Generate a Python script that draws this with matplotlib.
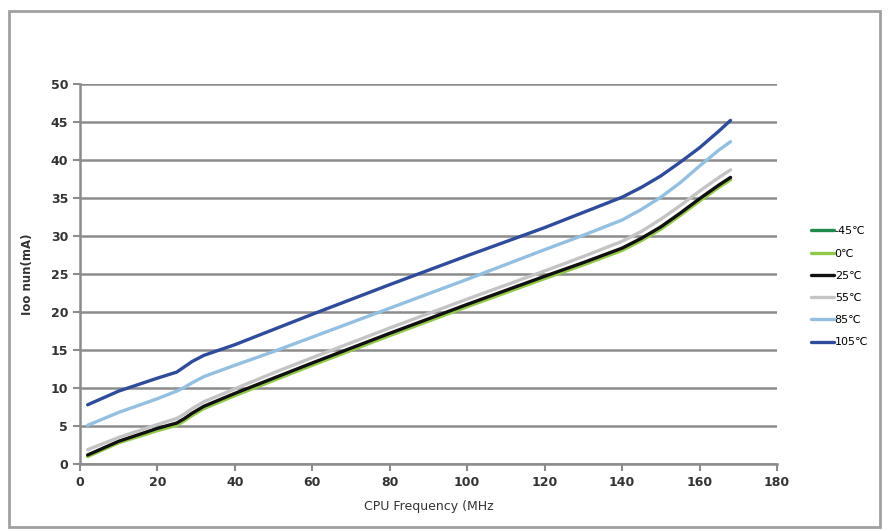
import numpy as np
import matplotlib
matplotlib.use('Agg')
from matplotlib import pyplot as plt
from matplotlib.patches import Rectangle

# CPU frequency points (MHz)
freq = [2, 10, 20, 25, 27, 29, 32, 40, 50, 60, 80, 100, 120, 130, 140, 145, 150, 155, 160, 165, 168]

# supply current (mA) per temperature
i_m45 = [1.1, 2.9, 4.6, 5.3, 5.9, 6.6, 7.5, 9.2, 11.2, 13.2, 17.1, 20.9, 24.6, 26.4, 28.3, 29.6, 31.1, 32.9, 34.8, 36.6, 37.6]
i_0 = [1.0, 2.8, 4.4, 5.1, 5.7, 6.4, 7.3, 9.0, 11.0, 13.0, 16.9, 20.7, 24.4, 26.2, 28.1, 29.4, 30.9, 32.7, 34.6, 36.4, 37.4]
i_25 = [1.2, 3.0, 4.7, 5.4, 6.0, 6.7, 7.6, 9.3, 11.3, 13.3, 17.2, 21.0, 24.7, 26.5, 28.4, 29.7, 31.2, 33.0, 34.9, 36.7, 37.7]
i_55 = [1.9, 3.5, 5.2, 6.0, 6.6, 7.3, 8.2, 9.9, 12.0, 14.0, 17.9, 21.7, 25.4, 27.3, 29.3, 30.6, 32.2, 34.0, 35.9, 37.7, 38.7]
i_85 = [5.1, 6.8, 8.6, 9.6, 10.1, 10.7, 11.5, 13.0, 14.8, 16.7, 20.5, 24.3, 28.2, 30.1, 32.1, 33.5, 35.1, 37.0, 39.2, 41.3, 42.4]
i_105 = [7.8, 9.6, 11.3, 12.1, 12.8, 13.5, 14.3, 15.7, 17.7, 19.7, 23.6, 27.4, 31.1, 33.1, 35.1, 36.4, 37.9, 39.7, 41.6, 43.8, 45.2]

labels = ['-45\u2103', '0\u2103', '25\u2103', '55\u2103', '85\u2103', '105\u2103']
colors = ['#1f8a4c', '#93c94a', '#111111', '#c4c4c4', '#93bfe0', '#2f4c9c']
series = [i_m45, i_0, i_25, i_55, i_85, i_105]

xticks = [0, 20, 40, 60, 80, 100, 120, 140, 160, 180]
yticks = [0, 5, 10, 15, 20, 25, 30, 35, 40, 45, 50]

fig = plt.figure(figsize=(8.88, 5.31), dpi=100)
ax = fig.add_axes([0.090, 0.126, 0.785, 0.716])

# outer frame round the whole picture
fig.patches.append(Rectangle((0.010, 0.008), 0.981, 0.971, transform=fig.transFigure,
                             fill=False, edgecolor='#a0a0a0', linewidth=2))

for y, lab, col in zip(series, labels, colors):
    ax.plot(freq, y, color=col, linewidth=2.4, label=lab, solid_capstyle='round')

ax.set_xlim(0, 180)
ax.set_ylim(0, 50)
ax.set_xticks(xticks)
ax.set_yticks(yticks)
ax.yaxis.grid(True, color='#8c8c8c', linewidth=1.8)
ax.set_axisbelow(True)
for s in ['top', 'right']:
    ax.spines[s].set_visible(False)
for s in ['left', 'bottom']:
    ax.spines[s].set_color('#8c8c8c')
    ax.spines[s].set_linewidth(1.8)
ax.tick_params(colors='#8c8c8c', width=1.5, length=5, labelcolor='#333333', labelsize=9)
for t in ax.get_xticklabels() + ax.get_yticklabels():
    t.set_fontweight('bold')

ax.set_xlabel('CPU Frequency (MHz', fontsize=9, color='#333333', labelpad=8)
ax.set_ylabel('Ioo nun(mA)', fontsize=8.5, color='#333333', labelpad=12, fontweight='bold')

ax.legend(loc='center left', bbox_to_anchor=(1.035, 0.466), frameon=False, fontsize=8,
          handlelength=2.0, handletextpad=0.1, labelspacing=1.1)

plt.savefig('out.png', dpi=100)
